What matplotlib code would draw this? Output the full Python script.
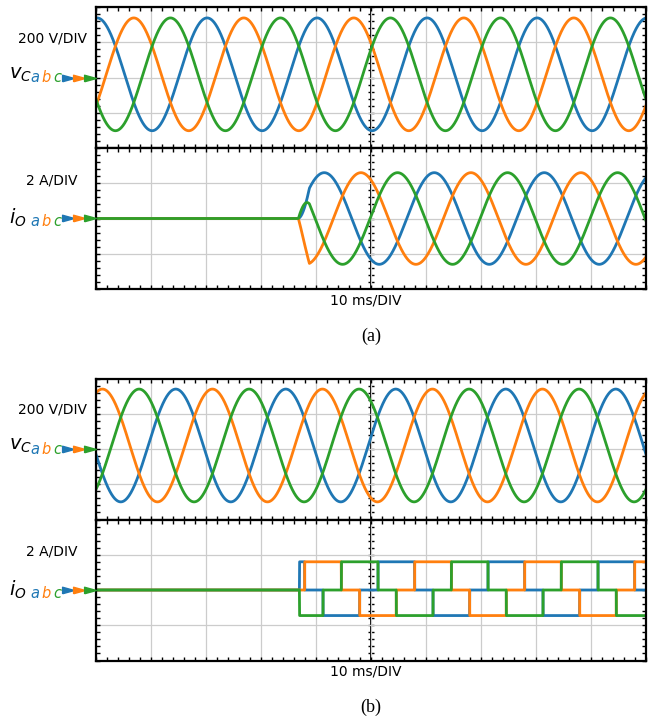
import numpy as np
import matplotlib
matplotlib.use("Agg")
import matplotlib.pyplot as plt
from matplotlib.ticker import MultipleLocator

# --- values ---
period_ms = 20.0                     # 50 Hz grid
phase_colors = ['#1f77b4', '#ff7f0e', '#2ca02c']   # a, b, c
phase_lag_ms = [0.0, 20.0 / 3, 40.0 / 3]            # b and c lag a by 120 / 240 deg

# capacitor voltages v_C (both cases)
vc_peak_a_ms = [0.2, 14.5]       # time of first peak of phase a, case (a) / (b)
vc_amp_v = [320.0, 320.0]
vc_offset_v = [18.0, 20.0]

# case (a): sinusoidal output current
io_a_peak_ms = 1.5
io_a_amp = 2.6
io_a_on_ms = 36.8
io_a_ramp_ms = 2.0

# case (b): six-step (120 deg block) output current
io_b_center_ms = 14.6            # centre of the positive block of phase a
io_b_levels = [1.6, -1.45]       # high / low level in A
io_b_on_ms = 37.0

t = np.linspace(0, 100, 5001)    # 10 ms/DIV x 10 DIV

W, H = 649, 719
fig = plt.figure(figsize=(W / 100, H / 100), dpi=100)


def rect(x0, y0, x1, y1):
    return [x0 / W, 1 - y1 / H, (x1 - x0) / W, (y1 - y0) / H]


def fx(x):
    return x / W


def fy(y):
    return 1 - y / H


def scope_axes(r, per_div):
    ax = fig.add_axes(r)
    ax.set_xlim(0, 100)
    ax.set_ylim(-2 * per_div, 2 * per_div)
    ax.xaxis.set_major_locator(MultipleLocator(10))
    ax.yaxis.set_major_locator(MultipleLocator(per_div))
    ax.xaxis.set_minor_locator(MultipleLocator(2))
    ax.yaxis.set_minor_locator(MultipleLocator(per_div / 5))
    ax.grid(which='major', color='#cccccc', lw=0.9, zorder=0)
    ax.tick_params(which='both', direction='in', top=True, right=True,
                   length=3, width=1, color='k',
                   labelbottom=False, labelleft=False)
    for s in ax.spines.values():
        s.set_linewidth(1.6)
    # centre line with its own tick marks
    ax.axvline(50, color='k', lw=1.4, zorder=1)
    yt = np.arange(-2 * per_div, 2 * per_div + 1e-9, per_div / 5)
    ax.plot(np.full_like(yt, 50), yt, ls='none', marker='_', ms=5,
            mew=1, color='k', zorder=1)
    return ax


tri = [(-1, -0.55), (1, 0), (-1, 0.55), (-1, -0.55)]


def channel_label(sym, scale, y_scale, y_sym, y_zero):
    fig.text(fx(52), fy(y_scale), scale, ha='center', va='center', fontsize=10)
    fig.text(fx(9), fy(y_sym), sym, ha='left', va='center', fontsize=14)
    for i, ch in enumerate('abc'):
        fig.text(fx(35 + 11 * i), fy(y_sym + 4), ch, ha='center', va='center',
                 fontsize=10.5, style='italic', color=phase_colors[i])
    for i in range(3):
        fig.lines.append(plt.Line2D([fx(68 + 11 * i)], [fy(y_zero)],
                                    transform=fig.transFigure, marker=tri,
                                    ms=8.5, ls='none', color=phase_colors[i]))


def six_step(tt, center, hi, lo):
    th = np.mod((tt - center) / period_ms, 1.0)
    out = np.zeros_like(tt)
    out[(th < 1 / 6) | (th > 5 / 6)] = hi
    out[(th > 1 / 3) & (th < 2 / 3)] = lo
    return out


cases = ['(a)', '(b)']
for k, dy in enumerate([0.0, 371.5]):
    top = 7 + dy
    mid = 148 + dy
    bot = 289 + dy
    axv = scope_axes(rect(96, top, 646, mid), 200)
    axi = scope_axes(rect(96, mid, 646, bot), 2)

    for p in range(3):
        v = vc_offset_v[k] + vc_amp_v[k] * np.cos(
            2 * np.pi * (t - vc_peak_a_ms[k] - phase_lag_ms[p]) / period_ms)
        axv.plot(t, v, color=phase_colors[p], lw=2.0, zorder=2)

    for p in range(3):
        if k == 0:
            env = np.clip((t - io_a_on_ms) / io_a_ramp_ms, 0, 1)
            i = env * io_a_amp * np.cos(
                2 * np.pi * (t - io_a_peak_ms - phase_lag_ms[p]) / period_ms)
        else:
            i = six_step(t, io_b_center_ms + phase_lag_ms[p], *io_b_levels)
            i[t < io_b_on_ms] = 0
        axi.plot(t, i, color=phase_colors[p], lw=2.0, zorder=2)

    channel_label(r'$v_C$', '200 V/DIV', 38 + dy, 74 + dy, (top + mid) / 2)
    channel_label(r'$i_O$', '2 A/DIV', 180 + dy, 218 + dy, (mid + bot) / 2)
    fig.text(fx(366), fy(300 + dy), '10 ms/DIV', ha='center', va='center', fontsize=10)
    fig.text(fx(371), fy(336 + dy), cases[k], ha='center', va='center',
             fontsize=13, family='Liberation Serif')

fig.savefig('out.png', dpi=100)
